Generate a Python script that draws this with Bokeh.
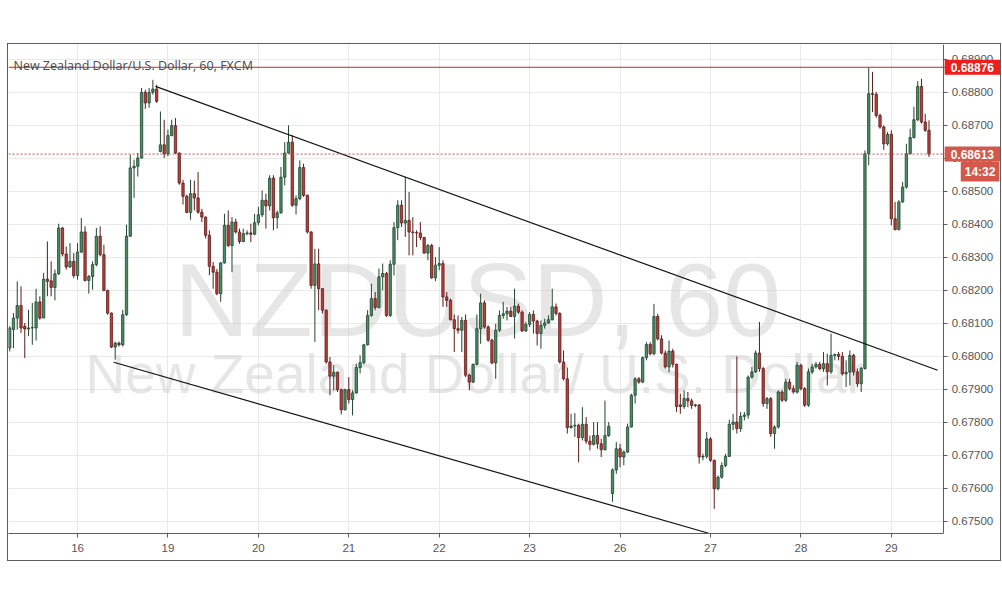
from bokeh.plotting import figure
from bokeh.models import (Range1d, FixedTicker, PrintfTickFormatter, Span, Label,
                          ColumnDataSource, BoxAnnotation)
from bokeh.core.properties import value
from bokeh.embed import file_html
from bokeh.resources import INLINE

# ---------------- data (NZD/USD, 60 min, FXCM) ----------------
open_ = [
    0.68025, 0.68081, 0.68116, 0.68154, 0.68091, 0.68083, 0.68086, 0.68086, 0.68165, 0.68116,
    0.68234, 0.68229, 0.68209, 0.68250, 0.68389, 0.68310, 0.68271, 0.68288, 0.68245, 0.68316,
    0.68377, 0.68230, 0.68242, 0.68278, 0.68364, 0.68308, 0.68200, 0.68131, 0.68028, 0.68040,
    0.68035, 0.68126, 0.68364, 0.68571, 0.68576, 0.68601, 0.68800, 0.68768, 0.68800, 0.68810,
    0.68621, 0.68641, 0.68614, 0.68669, 0.68699, 0.68616, 0.68525, 0.68485, 0.68436, 0.68493,
    0.68480, 0.68437, 0.68422, 0.68367, 0.68273, 0.68255, 0.68190, 0.68283, 0.68397, 0.68336,
    0.68407, 0.68377, 0.68348, 0.68372, 0.68374, 0.68370, 0.68405, 0.68429, 0.68473, 0.68456,
    0.68540, 0.68420, 0.68435, 0.68543, 0.68616, 0.68649, 0.68458, 0.68478, 0.68572, 0.68488,
    0.68377, 0.68215, 0.68280, 0.68205, 0.68140, 0.67983, 0.67940, 0.67952, 0.67899, 0.67838,
    0.67899, 0.67869, 0.67889, 0.67966, 0.67981, 0.68035, 0.68124, 0.68175, 0.68148, 0.68241,
    0.68251, 0.68124, 0.68279, 0.68390, 0.68458, 0.68404, 0.68412, 0.68377, 0.68375, 0.68374,
    0.68360, 0.68313, 0.68336, 0.68238, 0.68276, 0.68281, 0.68180, 0.68170, 0.68111, 0.68084,
    0.68079, 0.68109, 0.67943, 0.67922, 0.67976, 0.68084, 0.68162, 0.68089, 0.68049, 0.67980,
    0.68079, 0.68124, 0.68129, 0.68137, 0.68121, 0.68152, 0.68134, 0.68077, 0.68097, 0.68127,
    0.68107, 0.68069, 0.68094, 0.68101, 0.68111, 0.68150, 0.68130, 0.67983, 0.67932, 0.67784,
    0.67789, 0.67791, 0.67754, 0.67794, 0.67743, 0.67733, 0.67760, 0.67735, 0.67717, 0.67760,
    0.67584, 0.67656, 0.67720, 0.67695, 0.67710, 0.67786, 0.67882, 0.67932, 0.67922, 0.67996,
    0.68036, 0.68008, 0.68121, 0.68053, 0.68010, 0.67968, 0.68016, 0.67976, 0.67853, 0.67848,
    0.67872, 0.67865, 0.67851, 0.67853, 0.67695, 0.67697, 0.67750, 0.67685, 0.67599, 0.67634,
    0.67669, 0.67697, 0.67794, 0.67801, 0.67781, 0.67818, 0.67822, 0.67937, 0.67953, 0.68010,
    0.67963, 0.67857, 0.67872, 0.67766, 0.67786, 0.67892, 0.67867, 0.67922, 0.67902, 0.67892,
    0.67973, 0.67902, 0.67852, 0.67953, 0.67968, 0.67976, 0.67963, 0.67978, 0.67953, 0.68003,
    0.68006, 0.68000, 0.67947, 0.67952, 0.68003, 0.67953, 0.67917, 0.67963, 0.68614, 0.68796,
    0.68794, 0.68730, 0.68695, 0.68644, 0.68673, 0.68417, 0.68384, 0.68468, 0.68513, 0.68614,
    0.68663, 0.68717, 0.68818, 0.68710, 0.68685,
]
high = [
    0.68091, 0.68131, 0.68227, 0.68212, 0.68101, 0.68141, 0.68162, 0.68205, 0.68182, 0.68253,
    0.68348, 0.68288, 0.68263, 0.68402, 0.68392, 0.68333, 0.68343, 0.68313, 0.68343, 0.68419,
    0.68394, 0.68247, 0.68288, 0.68389, 0.68394, 0.68338, 0.68202, 0.68133, 0.68045, 0.68045,
    0.68141, 0.68399, 0.68611, 0.68596, 0.68616, 0.68813, 0.68808, 0.68813, 0.68838, 0.68823,
    0.68742, 0.68717, 0.68687, 0.68717, 0.68722, 0.68618, 0.68535, 0.68490, 0.68535, 0.68533,
    0.68559, 0.68447, 0.68424, 0.68382, 0.68286, 0.68265, 0.68286, 0.68432, 0.68442, 0.68422,
    0.68417, 0.68387, 0.68387, 0.68382, 0.68402, 0.68432, 0.68453, 0.68503, 0.68493, 0.68549,
    0.68549, 0.68442, 0.68574, 0.68649, 0.68700, 0.68670, 0.68488, 0.68594, 0.68584, 0.68490,
    0.68379, 0.68326, 0.68326, 0.68207, 0.68142, 0.67998, 0.67973, 0.67954, 0.67902, 0.67902,
    0.67937, 0.67897, 0.67978, 0.68003, 0.68038, 0.68140, 0.68220, 0.68195, 0.68266, 0.68281,
    0.68256, 0.68291, 0.68407, 0.68473, 0.68473, 0.68544, 0.68498, 0.68422, 0.68382, 0.68407,
    0.68362, 0.68341, 0.68341, 0.68301, 0.68331, 0.68291, 0.68195, 0.68175, 0.68127, 0.68124,
    0.68119, 0.68127, 0.67947, 0.67978, 0.68127, 0.68190, 0.68170, 0.68094, 0.68054, 0.68099,
    0.68139, 0.68165, 0.68150, 0.68150, 0.68205, 0.68160, 0.68139, 0.68104, 0.68134, 0.68139,
    0.68111, 0.68109, 0.68114, 0.68124, 0.68205, 0.68160, 0.68134, 0.68018, 0.67966, 0.67826,
    0.67828, 0.67796, 0.67846, 0.67816, 0.67760, 0.67801, 0.67801, 0.67750, 0.67866, 0.67801,
    0.67660, 0.67740, 0.67735, 0.67715, 0.67796, 0.67887, 0.67937, 0.67937, 0.68000, 0.68043,
    0.68043, 0.68159, 0.68129, 0.68064, 0.68018, 0.68048, 0.68023, 0.67978, 0.67887, 0.67897,
    0.67892, 0.67872, 0.67856, 0.67855, 0.67705, 0.67771, 0.67755, 0.67687, 0.67639, 0.67679,
    0.67705, 0.67808, 0.67826, 0.68000, 0.67831, 0.67831, 0.67942, 0.67968, 0.68018, 0.68104,
    0.67968, 0.67877, 0.67877, 0.67791, 0.67897, 0.67897, 0.67932, 0.67932, 0.67912, 0.67983,
    0.67978, 0.67907, 0.67963, 0.67978, 0.67983, 0.67983, 0.68013, 0.68008, 0.68069, 0.68008,
    0.68013, 0.68013, 0.67988, 0.68018, 0.68008, 0.67963, 0.67968, 0.68624, 0.68876, 0.68862,
    0.68801, 0.68735, 0.68700, 0.68680, 0.68685, 0.68468, 0.68473, 0.68528, 0.68644, 0.68690,
    0.68756, 0.68834, 0.68841, 0.68735, 0.68715,
]
low = [
    0.68015, 0.68025, 0.68081, 0.68071, 0.67995, 0.68061, 0.68035, 0.68048, 0.68111, 0.68116,
    0.68182, 0.68182, 0.68170, 0.68247, 0.68303, 0.68263, 0.68268, 0.68237, 0.68232, 0.68313,
    0.68227, 0.68190, 0.68202, 0.68273, 0.68303, 0.68197, 0.68126, 0.68025, 0.67990, 0.68030,
    0.68030, 0.68123, 0.68362, 0.68480, 0.68545, 0.68599, 0.68750, 0.68753, 0.68793, 0.68768,
    0.68618, 0.68601, 0.68606, 0.68667, 0.68613, 0.68520, 0.68460, 0.68434, 0.68414, 0.68442,
    0.68432, 0.68407, 0.68357, 0.68246, 0.68205, 0.68185, 0.68165, 0.68281, 0.68331, 0.68255,
    0.68372, 0.68341, 0.68346, 0.68367, 0.68346, 0.68367, 0.68397, 0.68422, 0.68387, 0.68442,
    0.68382, 0.68387, 0.68432, 0.68518, 0.68614, 0.68453, 0.68430, 0.68473, 0.68483, 0.68372,
    0.68205, 0.68044, 0.68140, 0.68130, 0.67978, 0.67882, 0.67897, 0.67892, 0.67824, 0.67836,
    0.67857, 0.67821, 0.67887, 0.67948, 0.67976, 0.68033, 0.68120, 0.68140, 0.68145, 0.68200,
    0.68119, 0.68119, 0.68245, 0.68352, 0.68392, 0.68362, 0.68306, 0.68306, 0.68331, 0.68352,
    0.68311, 0.68291, 0.68235, 0.68228, 0.68261, 0.68150, 0.68150, 0.68109, 0.68013, 0.68069,
    0.68013, 0.67937, 0.67897, 0.67919, 0.67973, 0.68038, 0.68084, 0.68044, 0.67976, 0.67932,
    0.68074, 0.68114, 0.68109, 0.68119, 0.68054, 0.68129, 0.68074, 0.68074, 0.68089, 0.68069,
    0.68033, 0.68023, 0.68084, 0.68099, 0.68109, 0.68124, 0.67978, 0.67927, 0.67766, 0.67781,
    0.67756, 0.67679, 0.67745, 0.67735, 0.67715, 0.67730, 0.67720, 0.67695, 0.67715, 0.67756,
    0.67559, 0.67644, 0.67664, 0.67670, 0.67707, 0.67784, 0.67857, 0.67917, 0.67919, 0.67988,
    0.68003, 0.68003, 0.68048, 0.68006, 0.67963, 0.67952, 0.67966, 0.67831, 0.67826, 0.67841,
    0.67846, 0.67841, 0.67846, 0.67675, 0.67685, 0.67690, 0.67680, 0.67538, 0.67594, 0.67629,
    0.67664, 0.67695, 0.67776, 0.67766, 0.67771, 0.67806, 0.67811, 0.67932, 0.67950, 0.67953,
    0.67847, 0.67841, 0.67756, 0.67720, 0.67781, 0.67862, 0.67862, 0.67897, 0.67887, 0.67887,
    0.67897, 0.67847, 0.67847, 0.67947, 0.67963, 0.67958, 0.67953, 0.67912, 0.67947, 0.67988,
    0.67988, 0.67942, 0.67907, 0.67912, 0.67942, 0.67907, 0.67892, 0.67960, 0.68579, 0.68740,
    0.68723, 0.68690, 0.68626, 0.68639, 0.68397, 0.68382, 0.68382, 0.68465, 0.68508, 0.68612,
    0.68660, 0.68713, 0.68705, 0.68680, 0.68604,
]
close_ = [
    0.68086, 0.68116, 0.68154, 0.68086, 0.68083, 0.68086, 0.68087, 0.68165, 0.68116, 0.68234,
    0.68227, 0.68209, 0.68250, 0.68389, 0.68310, 0.68271, 0.68288, 0.68245, 0.68316, 0.68377,
    0.68230, 0.68242, 0.68278, 0.68364, 0.68308, 0.68200, 0.68131, 0.68028, 0.68040, 0.68035,
    0.68126, 0.68364, 0.68571, 0.68576, 0.68601, 0.68800, 0.68768, 0.68800, 0.68810, 0.68773,
    0.68641, 0.68614, 0.68669, 0.68699, 0.68616, 0.68525, 0.68485, 0.68436, 0.68493, 0.68480,
    0.68437, 0.68422, 0.68367, 0.68273, 0.68255, 0.68190, 0.68283, 0.68397, 0.68336, 0.68407,
    0.68377, 0.68348, 0.68372, 0.68374, 0.68370, 0.68405, 0.68429, 0.68473, 0.68456, 0.68540,
    0.68420, 0.68435, 0.68543, 0.68616, 0.68649, 0.68458, 0.68478, 0.68572, 0.68488, 0.68377,
    0.68215, 0.68280, 0.68205, 0.68140, 0.67983, 0.67940, 0.67952, 0.67899, 0.67838, 0.67899,
    0.67869, 0.67889, 0.67966, 0.67981, 0.68035, 0.68124, 0.68175, 0.68148, 0.68241, 0.68251,
    0.68124, 0.68279, 0.68390, 0.68458, 0.68404, 0.68412, 0.68377, 0.68375, 0.68374, 0.68360,
    0.68313, 0.68336, 0.68238, 0.68276, 0.68281, 0.68180, 0.68170, 0.68111, 0.68084, 0.68079,
    0.68109, 0.67943, 0.67922, 0.67976, 0.68084, 0.68162, 0.68089, 0.68049, 0.67980, 0.68079,
    0.68124, 0.68129, 0.68137, 0.68121, 0.68152, 0.68134, 0.68077, 0.68097, 0.68127, 0.68107,
    0.68069, 0.68094, 0.68101, 0.68111, 0.68150, 0.68130, 0.67983, 0.67932, 0.67784, 0.67789,
    0.67791, 0.67754, 0.67794, 0.67743, 0.67733, 0.67760, 0.67735, 0.67717, 0.67760, 0.67788,
    0.67656, 0.67720, 0.67695, 0.67710, 0.67786, 0.67882, 0.67932, 0.67922, 0.67996, 0.68036,
    0.68008, 0.68121, 0.68053, 0.68010, 0.67968, 0.68016, 0.67976, 0.67848, 0.67848, 0.67872,
    0.67865, 0.67851, 0.67853, 0.67695, 0.67697, 0.67750, 0.67685, 0.67599, 0.67634, 0.67669,
    0.67697, 0.67794, 0.67801, 0.67781, 0.67818, 0.67822, 0.67937, 0.67953, 0.68010, 0.67963,
    0.67857, 0.67872, 0.67766, 0.67786, 0.67892, 0.67867, 0.67922, 0.67902, 0.67892, 0.67973,
    0.67902, 0.67852, 0.67953, 0.67968, 0.67976, 0.67963, 0.67978, 0.67953, 0.68003, 0.68006,
    0.68000, 0.67947, 0.67952, 0.68003, 0.67953, 0.67917, 0.67963, 0.68614, 0.68796, 0.68794,
    0.68730, 0.68695, 0.68644, 0.68673, 0.68417, 0.68384, 0.68468, 0.68513, 0.68614, 0.68663,
    0.68717, 0.68818, 0.68710, 0.68685, 0.68613,
]

# bottom axis: first hourly bar of each trading day, and its label
day_start_bar = [18, 42, 66, 90, 114, 138, 162, 186, 210, 234]
day_labels = ["16", "19", "20", "21", "22", "23", "26", "27", "28", "29"]

# right axis ticks
price_ticks = [0.675, 0.676, 0.677, 0.678, 0.679, 0.680, 0.681, 0.682,
               0.683, 0.684, 0.685, 0.686, 0.687, 0.688, 0.689]

high_line_price = 0.68876
last_price = 0.68613
countdown_text = "14:32"

# hand-drawn channel lines (bar index, price)
upper_trend_x = [38.7, 246.3]
upper_trend_y = [0.68818, 0.67958]
lower_trend_x = [27.6, 185.5]
lower_trend_y = [0.67982, 0.67464]

title_text = "New Zealand Dollar/U.S. Dollar, 60, FXCM"
watermark_1 = "NZDUSD, 60"
watermark_2 = "New Zealand Dollar/ U.S. Dollar"

# ---------------- layout constants ----------------
X_START = -0.32          # left edge of the chart area (bar units)
X_AXIS_AT = 247.9        # where the price scale starts (bar units)
X_END = 262.98           # right edge of the canvas (bar units)

# ---------------- build ----------------
GREEN_FILL, GREEN_LINE = "#4b8d66", "#21452f"
RED_FILL, RED_LINE = "#b8403a", "#5a1c19"

bars = list(range(len(close_)))
is_up = [c >= o for o, c in zip(open_, close_)]
src = ColumnDataSource(dict(
    x=bars,
    top=[max(o, c) for o, c in zip(open_, close_)],
    bottom=[min(o, c) for o, c in zip(open_, close_)],
    high=high, low=low,
    fill=[GREEN_FILL if u else RED_FILL for u in is_up],
    line=[GREEN_LINE if u else RED_LINE for u in is_up],
))

p = figure(
    width=992, height=516,
    x_range=Range1d(X_START, X_END),
    y_range=Range1d(0.674632, 0.68945),
    y_axis_location="right",
    output_backend="svg", toolbar_location=None,
    min_border_left=0, min_border_top=0, min_border_right=0, min_border_bottom=27,
    background_fill_color="white", border_fill_color="white",
)
p.margin = (44, 0, 0, 8)
p.styles = {"outline": "1px solid #5d5d5d"}
p.outline_line_color = None

# grid
p.xgrid.grid_line_color = "#e9e9e9"
p.ygrid.grid_line_color = "#e9e9e9"
# keep the price-scale strip clean of grid lines
p.add_layout(BoxAnnotation(left=X_AXIS_AT, fill_color="white", fill_alpha=1.0,
                           line_color=None, level="underlay"))

# axes
p.xaxis.ticker = FixedTicker(ticks=day_start_bar)
p.xaxis.major_label_overrides = {b: l for b, l in zip(day_start_bar, day_labels)}
p.xaxis.bounds = (X_START, X_AXIS_AT)
p.yaxis.ticker = FixedTicker(ticks=price_ticks)
p.yaxis.formatter = PrintfTickFormatter(format="%.5f")
p.yaxis.fixed_location = X_AXIS_AT
for ax in (p.xaxis, p.yaxis):
    ax.axis_line_color = "#5d5d5d"
    ax.major_tick_line_color = "#5d5d5d"
    ax.major_tick_in = 0
    ax.major_tick_out = 4
    ax.minor_tick_line_color = None
    ax.major_label_text_color = "#555555"
    ax.major_label_text_font = "Liberation Sans"
    ax.major_label_text_font_size = "11.5px"
p.yaxis.major_label_standoff = 4
p.xaxis.major_label_standoff = 6

# watermark
p.text(x=[124.2], y=[0.68170], text=[watermark_1], text_font=value("Liberation Sans"),
       text_font_size="104px", text_color="#c8c8c8", text_alpha=0.45,
       text_align="center", text_baseline="alphabetic")
p.text(x=[20.1], y=[0.67948], text=[watermark_2], text_font=value("Liberation Sans"),
       text_font_size="55px", text_color="#c8c8c8", text_alpha=0.45,
       text_align="left", text_baseline="alphabetic")

# candles
p.segment(x0="x", y0="high", x1="x", y1="low", source=src, line_color="line", line_width=1)
p.vbar(x="x", top="top", bottom="bottom", width=0.62, source=src,
       fill_color="fill", line_color="line", line_width=0.8)

# channel lines
p.line(upper_trend_x, upper_trend_y, line_color="#111111", line_width=1.2)
p.line(lower_trend_x, lower_trend_y, line_color="#111111", line_width=1.2)

# price lines
p.add_layout(Span(location=high_line_price, dimension="width", line_color="#c0272d", line_width=1))
p.add_layout(Span(location=last_price, dimension="width", line_color="#c0504d",
                  line_width=1, line_dash="2 2"))

p.add_layout(Label(x=1.0, y=0.68882, text=title_text, text_font="Open Sans",
                   text_font_size="12.5px", text_color="#4a4a4a", text_baseline="alphabetic"))

has_pad = "padding" in Label.properties()
box_style = dict(text_font="Liberation Sans", text_font_size="12px", text_font_style="bold",
                 text_color="white", text_baseline="middle")
wide_pad = {"padding": (6, 3)} if has_pad else {}
narrow_pad = {"padding": (4, 3)} if has_pad else {}

# price tags over the price scale
p.add_layout(Label(x=248.16, y=high_line_price, text=f"{high_line_price:.5f}", text_align="left",
                   background_fill_color="#ee1c1c", **box_style, **wide_pad))
p.add_layout(Label(x=248.16, y=last_price, text=f"{last_price:.5f}", text_align="left",
                   background_fill_color="#d4574c", **box_style, **wide_pad))
p.add_layout(Label(x=262.7, y=last_price - 0.00053, text=countdown_text, text_align="right",
                   background_fill_color="#d4574c", **box_style, **narrow_pad))

open("out.html", "w").write(file_html(p, INLINE))
